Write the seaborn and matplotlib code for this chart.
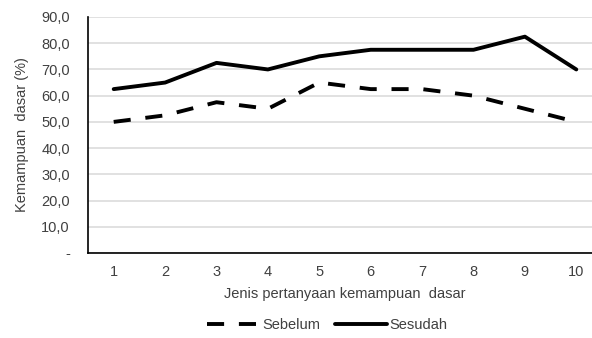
import numpy as np
import pandas as pd
import matplotlib
matplotlib.use("Agg")
import matplotlib.pyplot as plt
import seaborn as sns
from matplotlib.ticker import FuncFormatter

questions = [1, 2, 3, 4, 5, 6, 7, 8, 9, 10]
sebelum = [50.0, 52.5, 57.5, 55.0, 65.0, 62.5, 62.5, 60.0, 55.0, 50.0]
sesudah = [62.5, 65.0, 72.5, 70.0, 75.0, 77.5, 77.5, 77.5, 82.5, 70.0]
y_ticks = [0, 10, 20, 30, 40, 50, 60, 70, 80, 90]

sns.set_theme(style="white")
plt.rcParams['font.family'] = ['Liberation Sans', 'DejaVu Sans']

df = pd.DataFrame({'q': questions * 2,
                   'val': sebelum + sesudah,
                   'grp': ['Sebelum'] * len(questions) + ['Sesudah'] * len(questions)})

fig = plt.figure(figsize=(5.92, 3.38), dpi=100)
ax = fig.add_axes([88 / 592, 1 - 253 / 338, (602 - 88) / 592, (253 - 17) / 338])

sns.lineplot(data=df[df['grp'] == 'Sebelum'], x='q', y='val', ax=ax, color='black',
             linewidth=2.8, label='Sebelum')
sns.lineplot(data=df[df['grp'] == 'Sesudah'], x='q', y='val', ax=ax, color='black',
             linewidth=2.8, label='Sesudah')
ax.lines[0].set_dashes((4.4, 3.8))
ax.lines[0].set_dash_capstyle('butt')

ax.set_xlim(0.5, 10.5)
ax.set_ylim(0, 90)
ax.set_xticks(questions)
ax.set_yticks(y_ticks)
ax.yaxis.set_major_formatter(FuncFormatter(lambda v, p: '-' if v == 0 else f"{v:.1f}".replace('.', ',')))
ax.grid(axis='y', color='#d9d9d9', linewidth=1.1)
ax.set_axisbelow(True)
for s in ['top', 'right']:
    ax.spines[s].set_visible(False)
ax.spines['left'].set_color('black')
ax.spines['bottom'].set_color('black')
ax.spines['left'].set_linewidth(1.2)
ax.spines['bottom'].set_linewidth(1.2)
ax.tick_params(axis='both', length=0, labelsize=10.5, colors='#404040')
ax.tick_params(axis='x', pad=8.5)
ax.tick_params(axis='y', pad=13)

ax.set_xlabel("Jenis pertanyaan kemampuan  dasar", fontsize=10.5, color='#404040', labelpad=6)
ax.set_ylabel("Kemampuan  dasar (%)", fontsize=10.5, color='#404040', labelpad=9)

handles, labels = ax.get_legend_handles_labels()
ax.legend_.remove()
fig.legend(handles, labels, loc='center', bbox_to_anchor=(0.553, 0.038), ncol=2,
           frameon=False, fontsize=10.5, handlelength=3.6, columnspacing=1.0,
           handletextpad=0.15, labelcolor='#404040')

fig.savefig("out.png", dpi=100)
